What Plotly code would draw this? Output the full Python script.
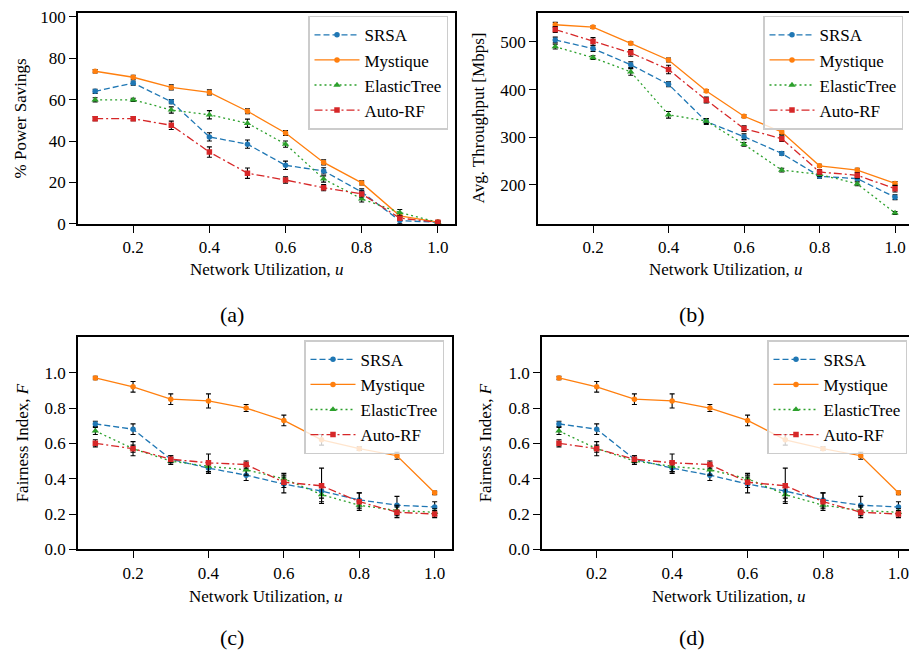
import plotly.graph_objects as go

# ---------------- data ----------------
utilization = [0.1, 0.2, 0.3, 0.4, 0.5, 0.6, 0.7, 0.8, 0.9, 1.0]
methods = ["SRSA", "Mystique", "ElasticTree", "Auto-RF"]

# (a) % Power Savings
srsa_ps = [64, 68, 59, 42, 38.5, 28.3, 25.6, 15.4, 1.6, 0.8]
srsa_ps_err = [1, 1, 1, 2, 2, 2, 1.5, 1.5, 1.5, 0.5]
myst_ps = [73.7, 70.8, 65.9, 63.5, 54.4, 43.9, 29.7, 19.8, 3.9, 0.9]
myst_ps_err = [0.8, 1, 1.2, 1.2, 1.2, 1.2, 1.2, 1, 1, 0.5]
et_ps = [59.9, 59.9, 55, 52.7, 48.6, 38.5, 21.7, 12.1, 5.5, 0.8]
et_ps_err = [1, 0.8, 1.5, 2, 2, 1.5, 1.5, 1.5, 1.5, 0.5]
arf_ps = [50.8, 50.8, 47.6, 34.7, 24.5, 21.2, 17.5, 14.5, 2.8, 0.8]
arf_ps_err = [1, 1, 2, 2.5, 2.5, 1.5, 1.5, 1.5, 1, 0.5]

# (b) Avg. Throughput [Mbps]
srsa_tp = [504, 486, 452, 411, 333, 301, 266, 218, 213, 174]
srsa_tp_err = [6, 6, 6, 5, 6, 6, 4, 4, 5, 5]
myst_tp = [536, 531, 497, 462, 397, 344, 311, 240, 231, 203]
myst_tp_err = [5, 3, 3, 4, 3, 3, 5, 3, 4, 4]
et_tp = [490, 467, 437, 347, 334, 285, 231, 222, 202, 141]
et_tp_err = [5, 4, 7, 7, 5, 4, 4, 4, 4, 3]
arf_tp = [526, 501, 477, 442, 378, 318, 297, 227, 220, 192]
arf_tp_err = [6, 8, 7, 9, 6, 6, 6, 5, 6, 7]

# (c)/(d) Fairness Index
srsa_f = [0.71, 0.68, 0.51, 0.46, 0.42, 0.37, 0.33, 0.28, 0.25, 0.24]
srsa_f_err = [0.015, 0.03, 0.02, 0.03, 0.03, 0.05, 0.04, 0.04, 0.05, 0.03]
myst_f = [0.97, 0.92, 0.85, 0.84, 0.80, 0.73, 0.62, 0.57, 0.53, 0.32]
myst_f_err = [0.01, 0.03, 0.03, 0.04, 0.02, 0.03, 0.03, 0.01, 0.02, 0.01]
et_f = [0.67, 0.57, 0.50, 0.47, 0.45, 0.40, 0.31, 0.25, 0.22, 0.21]
et_f_err = [0.02, 0.02, 0.02, 0.03, 0.03, 0.03, 0.04, 0.02, 0.03, 0.02]
arf_f = [0.60, 0.57, 0.51, 0.49, 0.48, 0.38, 0.36, 0.27, 0.21, 0.20]
arf_f_err = [0.02, 0.04, 0.02, 0.05, 0.02, 0.03, 0.10, 0.05, 0.03, 0.02]

x_ticks = [0.2, 0.4, 0.6, 0.8, 1.0]
x_tick_text = ["0.2", "0.4", "0.6", "0.8", "1.0"]
ps_ticks = [0, 20, 40, 60, 80, 100]
tp_ticks = [200, 300, 400, 500]
f_ticks = [0.0, 0.2, 0.4, 0.6, 0.8, 1.0]
f_tick_text = ["0.0", "0.2", "0.4", "0.6", "0.8", "1.0"]

# ---------------- style ----------------
FONT = "Liberation Serif"
colors = ["#1f77b4", "#ff7f0e", "#2ca02c", "#d62728"]
dashes = ["6px,3px", "solid", "2px,3px", "8px,3px,2px,3px"]
symbols = ["circle", "circle", "triangle-up", "square"]
msizes = [5.5, 5.5, 6.5, 5.5]

panels = [
    dict(vals=[srsa_ps, myst_ps, et_ps, arf_ps],
         errs=[srsa_ps_err, myst_ps_err, et_ps_err, arf_ps_err]),
    dict(vals=[srsa_tp, myst_tp, et_tp, arf_tp],
         errs=[srsa_tp_err, myst_tp_err, et_tp_err, arf_tp_err]),
    dict(vals=[srsa_f, myst_f, et_f, arf_f],
         errs=[srsa_f_err, myst_f_err, et_f_err, arf_f_err]),
    dict(vals=[srsa_f, myst_f, et_f, arf_f],
         errs=[srsa_f_err, myst_f_err, et_f_err, arf_f_err]),
]

fig = go.Figure()
for p, panel in enumerate(panels):
    sfx = "" if p == 0 else str(p + 1)
    leg = "legend" + sfx
    for i, name in enumerate(methods):
        fig.add_trace(go.Scatter(
            x=utilization, y=panel["vals"][i], name=name,
            mode="lines+markers",
            line=dict(color=colors[i], width=1.3, dash=dashes[i]),
            marker=dict(color=colors[i], symbol=symbols[i], size=msizes[i]),
            error_y=dict(type="data", array=panel["errs"][i], color="black",
                         thickness=1.1, width=2.5),
            xaxis="x" + sfx, yaxis="y" + sfx, legend=leg,
        ))

W, H = 909, 663
def px(x):
    return x / W
def py(y):
    return 1 - y / H

axis_common = dict(showline=True, linecolor="black", linewidth=1.5,
                   ticks="outside", ticklen=7, tickwidth=1.2, tickcolor="black",
                   showgrid=False, zeroline=False, ticklabeloverflow="allow",
                   tickfont=dict(family=FONT, size=17, color="black"))

top_dom = [py(224), py(8)]
bot_dom = [py(557), py(340)]

layout = dict(
    width=W, height=H, margin=dict(l=0, r=0, t=0, b=0),
    paper_bgcolor="white", plot_bgcolor="white",
    font=dict(family=FONT, size=17, color="black"),
    xaxis=dict(domain=[px(78), px(455)], range=[0.055, 1.045], anchor="y",
               mirror=True, tickvals=x_ticks, ticktext=x_tick_text, **axis_common),
    yaxis=dict(domain=top_dom, range=[0, 101.9], anchor="x", mirror=True,
               tickvals=ps_ticks, **axis_common),
    xaxis2=dict(domain=[px(538), 1.0], range=[0.0543, 1.037], anchor="y2",
                mirror=True, tickvals=x_ticks, ticktext=x_tick_text, **axis_common),
    yaxis2=dict(domain=top_dom, range=[118, 561], anchor="x2", mirror=False,
                tickvals=tp_ticks, **axis_common),
    xaxis3=dict(domain=[px(78), px(452)], range=[0.054, 1.046], anchor="y3",
                mirror=True, tickvals=x_ticks, ticktext=x_tick_text, **axis_common),
    yaxis3=dict(domain=bot_dom, range=[0, 1.2], anchor="x3", mirror=True,
                tickvals=f_ticks, ticktext=f_tick_text, **axis_common),
    xaxis4=dict(domain=[px(542), 1.0], range=[0.055, 1.028], anchor="y4",
                mirror=True, tickvals=x_ticks, ticktext=x_tick_text, **axis_common),
    yaxis4=dict(domain=bot_dom, range=[0, 1.2], anchor="x4", mirror=False,
                tickvals=f_ticks, ticktext=f_tick_text, **axis_common),
)

legend_common = dict(bgcolor="rgba(255,255,255,0.8)", bordercolor="#cccccc",
                     borderwidth=1.5, font=dict(family=FONT, size=17, color="black"),
                     xanchor="right", yanchor="top", tracegroupgap=0,
                     itemwidth=45)
layout["legend"] = dict(x=px(448), y=py(11), **legend_common)
layout["legend2"] = dict(x=px(903), y=py(11), **legend_common)
layout["legend3"] = dict(x=px(444), y=py(343), **legend_common)
layout["legend4"] = dict(x=px(907), y=py(343), **legend_common)

fig.update_layout(**layout)

ann = []
xlabel = "Network Utilization, <i>u</i>"
for cx, cy in [(266.5, 271), (725, 271), (265, 605), (728.5, 605)]:
    ann.append(dict(x=px(cx), y=py(cy), text=xlabel, showarrow=False,
                    xref="paper", yref="paper", xanchor="center", yanchor="middle",
                    font=dict(family=FONT, size=17)))
for cx, cy, t in [(20, 116, "% Power Savings"), (478, 116, "Avg. Throughput [Mbps]"),
                  (22, 448.5, "Fairness Index, <i>F</i>"),
                  (485, 448.5, "Fairness Index, <i>F</i>")]:
    ann.append(dict(x=px(cx), y=py(cy), text=t, showarrow=False, textangle=-90,
                    xref="paper", yref="paper", xanchor="center", yanchor="middle",
                    font=dict(family=FONT, size=17)))
for cx, cy, t in [(232, 317, "(a)"), (692, 317, "(b)"), (232, 647, "(c)"), (692, 647, "(d)")]:
    ann.append(dict(x=px(cx), y=py(cy), text=t, showarrow=False,
                    xref="paper", yref="paper", xanchor="center", yanchor="middle",
                    font=dict(family=FONT, size=22)))
fig.update_layout(annotations=ann)

fig.write_html("out.html", config={"displayModeBar": False},
               post_script="document.body.style.margin='0';document.body.style.overflow='hidden';")
